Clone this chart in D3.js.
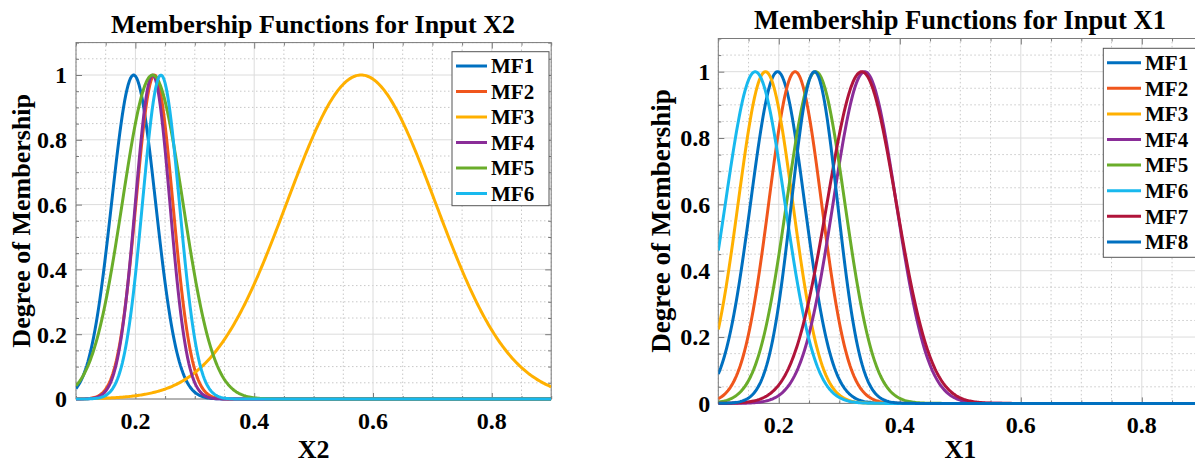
<!DOCTYPE html>
<html>
<head>
<meta charset="utf-8">
<script src="https://cdn.jsdelivr.net/npm/d3@7"></script>
<style>
  body { margin: 0; background: #fff; }
  svg { display: block; }
  text { font-family: "Liberation Serif", "Times New Roman", serif; font-weight: bold; fill: #000; }
</style>
</head>
<body>
<svg id="fig" width="1195" height="464"></svg>
<script>
// Axis ticks shared by both panels
const xTickValues = [0.2, 0.4, 0.6, 0.8];
const yTickValues = [0, 0.2, 0.4, 0.6, 0.8, 1];
const xTickLabels = ["0.2", "0.4", "0.6", "0.8"];
const yTickLabels = ["0", "0.2", "0.4", "0.6", "0.8", "1"];

// Gaussian membership functions for input X2: centre and sigma of each MF
const x2Names   = ["MF1", "MF2", "MF3", "MF4", "MF5", "MF6"];
const x2Centers = [0.197, 0.232, 0.580, 0.229, 0.229, 0.243];
const x2Sigmas  = [0.037, 0.031, 0.125, 0.029, 0.051, 0.031];

// Gaussian membership functions for input X1
const x1Names   = ["MF1", "MF2", "MF3", "MF4", "MF5", "MF6", "MF7", "MF8"];
const x1Centers = [0.198, 0.227, 0.178, 0.342, 0.261, 0.161, 0.337, 0.259];
const x1Sigmas  = [0.0445, 0.0435, 0.045, 0.052, 0.048, 0.049, 0.057, 0.038];

// MATLAB-like line colour order
const mfColors = ["#0070c0", "#f0561c", "#ffb000", "#8a2d98", "#6aad2a", "#18b9ee", "#b0143a", "#0070c0"];

const xDomain = [0.1, 0.9];
const yDomain = [0, 1.1];

const svg = d3.select("#fig");

function gaussmf(x, sigma, c) {
  return Math.exp(-((x - c) * (x - c)) / (2 * sigma * sigma));
}

function drawPanel(cfg, id) {
  const x = d3.scaleLinear().domain(xDomain).range([cfg.left, cfg.right]);
  const y = d3.scaleLinear().domain(yDomain).range([cfg.bottom, cfg.top]);
  const g = svg.append("g");

  const minorX = d3.range(0.1, 0.9001, 0.05).map(v => +v.toFixed(2)).filter(v => !xTickValues.includes(v));
  const minorY = d3.range(0, 1.1001, 0.05).map(v => +v.toFixed(2)).filter(v => !yTickValues.includes(v));

  // minor grid (dotted)
  g.append("g").selectAll("line").data(minorX).join("line")
    .attr("x1", d => x(d)).attr("x2", d => x(d))
    .attr("y1", y(yDomain[0])).attr("y2", y(yDomain[1]))
    .attr("stroke", "#c8c8c8").attr("stroke-width", 1).attr("stroke-dasharray", "1.5,2.5");
  g.append("g").selectAll("line").data(minorY).join("line")
    .attr("x1", x(xDomain[0])).attr("x2", x(xDomain[1]))
    .attr("y1", d => y(d)).attr("y2", d => y(d))
    .attr("stroke", "#c8c8c8").attr("stroke-width", 1).attr("stroke-dasharray", "1.5,2.5");

  // major grid
  g.append("g").selectAll("line").data(xTickValues).join("line")
    .attr("x1", d => x(d)).attr("x2", d => x(d))
    .attr("y1", y(yDomain[0])).attr("y2", y(yDomain[1]))
    .attr("stroke", "#dcdcdc").attr("stroke-width", 1);
  g.append("g").selectAll("line").data(yTickValues).join("line")
    .attr("x1", x(xDomain[0])).attr("x2", x(xDomain[1]))
    .attr("y1", d => y(d)).attr("y2", d => y(d))
    .attr("stroke", "#dcdcdc").attr("stroke-width", 1);

  // axes with inward ticks (major + minor) on all four sides
  const axisColor = "#7a7a7a";
  const styleAxis = sel => {
    sel.select(".domain").remove();
    sel.selectAll("line").attr("stroke", axisColor);
    sel.selectAll("text").remove();
  };
  const allX = minorX.concat(xTickValues);
  const allY = minorY.concat(yTickValues);
  const tickLen = d => (xTickValues.includes(d) ? 6 : 3);
  const tickLenY = d => (yTickValues.includes(d) ? 6 : 3);

  [[d3.axisBottom, cfg.bottom, -1], [d3.axisTop, cfg.top, 1]].forEach(([fn, pos, dir]) => {
    const a = g.append("g").attr("transform", `translate(0,${pos})`)
      .call(fn(x).tickValues(allX).tickSize(0));
    a.selectAll(".tick line").attr("y2", function (d) { return dir * tickLen(d); });
    styleAxis(a);
  });
  [[d3.axisLeft, cfg.left, 1], [d3.axisRight, cfg.right, -1]].forEach(([fn, pos, dir]) => {
    const a = g.append("g").attr("transform", `translate(${pos},0)`)
      .call(fn(y).tickValues(allY).tickSize(0));
    a.selectAll(".tick line").attr("x2", function (d) { return dir * tickLenY(d); });
    styleAxis(a);
  });

  // frame
  g.append("rect")
    .attr("x", cfg.left).attr("y", cfg.top)
    .attr("width", cfg.right - cfg.left).attr("height", cfg.bottom - cfg.top)
    .attr("fill", "none").attr("stroke", axisColor).attr("stroke-width", 1);

  // tick labels
  g.append("g").selectAll("text").data(xTickValues).join("text")
    .attr("x", d => x(d)).attr("y", cfg.xTickY)
    .attr("text-anchor", "middle").attr("font-size", cfg.tickSize)
    .text((d, i) => xTickLabels[i]);
  g.append("g").selectAll("text").data(yTickValues).join("text")
    .attr("x", cfg.left - cfg.yTickGap).attr("y", d => y(d))
    .attr("dy", "0.35em")
    .attr("text-anchor", "end").attr("font-size", cfg.tickSize)
    .text((d, i) => yTickLabels[i]);

  // membership curves
  const clipId = "clip" + id;
  svg.append("clipPath").attr("id", clipId).append("rect")
    .attr("x", cfg.left).attr("y", cfg.top - 4)
    .attr("width", cfg.right - cfg.left).attr("height", cfg.bottom - cfg.top + 8);
  const xs = d3.range(xDomain[0], xDomain[1] + 1e-9, 0.002);
  const line = d3.line().x(d => x(d[0])).y(d => y(d[1]));
  const curves = g.append("g").attr("clip-path", `url(#${clipId})`);
  cfg.names.forEach((name, i) => {
    const pts = xs.map(v => [v, gaussmf(v, cfg.sigmas[i], cfg.centers[i])]);
    curves.append("path").datum(pts)
      .attr("d", line)
      .attr("fill", "none")
      .attr("stroke", mfColors[i])
      .attr("stroke-width", 3)
      .attr("stroke-linejoin", "round");
  });

  // title and axis labels
  g.append("text").attr("x", cfg.titleX).attr("y", cfg.titleY)
    .attr("text-anchor", "middle").attr("font-size", cfg.titleSize).text(cfg.title);
  g.append("text").attr("x", (cfg.left + cfg.right) / 2).attr("y", cfg.xLabelY)
    .attr("text-anchor", "middle").attr("font-size", cfg.xLabelSize).text(cfg.xLabel);
  g.append("text")
    .attr("transform", `translate(${cfg.yLabelX},${(cfg.top + cfg.bottom) / 2}) rotate(-90)`)
    .attr("text-anchor", "middle").attr("font-size", cfg.yLabelSize).text("Degree of Membership");

  // legend
  const L = cfg.legend;
  const lg = g.append("g");
  lg.append("rect").attr("x", L.x).attr("y", L.y).attr("width", L.w).attr("height", L.h)
    .attr("fill", "#fff").attr("stroke", "#555").attr("stroke-width", 1);
  cfg.names.forEach((name, i) => {
    const ry = L.row0 + i * L.step;
    lg.append("line").attr("x1", L.lineX0).attr("x2", L.lineX1)
      .attr("y1", ry).attr("y2", ry)
      .attr("stroke", mfColors[i]).attr("stroke-width", 3);
    lg.append("text").attr("x", L.textX).attr("y", ry).attr("dy", "0.35em")
      .attr("font-size", L.size).text(name);
  });
}

drawPanel({
  left: 76, right: 551.2, top: 42.6, bottom: 399,
  names: x2Names, centers: x2Centers, sigmas: x2Sigmas,
  title: "Membership Functions for Input X2", titleX: 313, titleY: 33, titleSize: 26,
  xLabel: "X2", xLabelY: 458, xLabelSize: 26, yLabelX: 30, yLabelSize: 26,
  tickSize: 24, xTickY: 429, yTickGap: 9,
  legend: { x: 452, y: 51.7, w: 97, h: 154, row0: 66, step: 25.5, lineX0: 456, lineX1: 487, textX: 491, size: 21 }
}, "a");

drawPanel({
  left: 718.3, right: 1202.3, top: 38.5, bottom: 403.4,
  names: x1Names, centers: x1Centers, sigmas: x1Sigmas,
  title: "Membership Functions for Input X1", titleX: 960, titleY: 28.5, titleSize: 26.5,
  xLabel: "X1", xLabelY: 457.5, xLabelSize: 26, yLabelX: 670, yLabelSize: 27,
  tickSize: 24, xTickY: 433, yTickGap: 8,
  legend: { x: 1103.3, y: 48.3, w: 100, h: 209, row0: 62.7, step: 25.6, lineX0: 1107, lineX1: 1141, textX: 1145, size: 21 }
}, "b");
</script>
</body>
</html>
